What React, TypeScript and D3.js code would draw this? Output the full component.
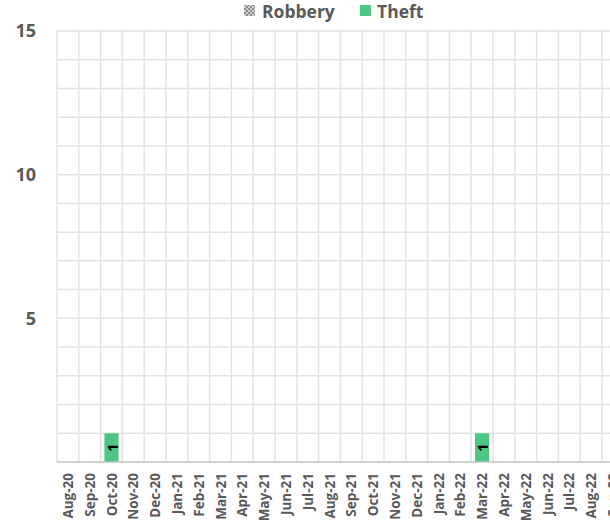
import React from "react";
import * as d3 from "d3";

const months = [
  "Aug-20","Sep-20","Oct-20","Nov-20","Dec-20","Jan-21","Feb-21","Mar-21","Apr-21","May-21",
  "Jun-21","Jul-21","Aug-21","Sep-21","Oct-21","Nov-21","Dec-21","Jan-22","Feb-22","Mar-22",
  "Apr-22","May-22","Jun-22","Jul-22","Aug-22","Sep-22",
];
const robbery = [0,0,0,0,0,0,0,0,0,0,0,0,0,0,0,0,0,0,0,0,0,0,0,0,0,0];
const theft =   [0,0,1,0,0,0,0,0,0,0,0,0,0,0,0,0,0,0,0,1,0,0,0,0,0,0];
const yTicks = [5, 10, 15];

const W = 610, H = 524;
const left = 57, top = 31, bottom = 462;
const step = 21.8;
const font = "'Open Sans', 'Noto Sans', sans-serif";
const textGray = "#595959";
const green = "#4bc683";

export default function App() {
  const x = d3.scaleBand<string>().domain(months).range([left, left + step * months.length]).paddingInner(0.35).paddingOuter(0.175);
  const xb = d3.scaleBand<string>().domain(months).range([left, left + step * months.length]);
  const y = d3.scaleLinear().domain([0, 15]).range([bottom, top]);
  const right = left + step * months.length;
  const stack = d3.stack<number>().keys(["robbery", "theft"]).value((i, k) => (k === "robbery" ? robbery[i] : theft[i]));
  const series = stack(months.map((_, i) => i));

  return (
    <svg width={W} height={H} style={{ position: "absolute", left: 0, top: 0, display: "block" }}>
      <defs>
        <pattern id="rob" width="4" height="4" patternUnits="userSpaceOnUse">
          <rect width="4" height="4" fill="#d0d0d0" />
          <rect width="2" height="2" fill="#8c8c8c" />
          <rect x="2" y="2" width="2" height="2" fill="#8c8c8c" />
        </pattern>
      </defs>
      <rect width={W} height={H} fill="#fff" />
      {d3.range(1, 16).map((v) => (
        <line key={"h" + v} x1={left} x2={right} y1={y(v)} y2={y(v)} stroke="#e3e3e3" strokeWidth={1.5} />
      ))}
      {months.map((m) => (
        <line key={"v" + m} x1={(xb(m) as number) + step} x2={(xb(m) as number) + step} y1={top} y2={bottom} stroke="#e3e3e3" strokeWidth={1.5} />
      ))}
      <line x1={left} x2={left} y1={top} y2={bottom} stroke="#e3e3e3" strokeWidth={1.5} />
      {series.map((s) =>
        s.map((d, i) =>
          d[1] - d[0] > 0 ? (
            <g key={s.key + i}>
              <rect x={x(months[i])} width={x.bandwidth()} y={y(d[1])} height={y(d[0]) - y(d[1])} fill={s.key === "theft" ? green : "url(#rob)"} />
              <text
                transform={`translate(${(x(months[i]) as number) + x.bandwidth() / 2},${(y(d[0]) + y(d[1])) / 2}) rotate(-90)`}
                textAnchor="middle" dominantBaseline="central" fontFamily={font} fontWeight={700} fontSize={15} fill="#000"
              >
                {d[1] - d[0]}
              </text>
            </g>
          ) : null
        )
      )}
      <line x1={left} x2={right} y1={bottom} y2={bottom} stroke="#c4c4c4" strokeWidth={1.5} />
      {yTicks.map((v) => (
        <text key={"y" + v} x={36} y={y(v)} dy="0.35em" textAnchor="end" fontFamily={font} fontWeight={700} fontSize={18} fill={textGray}>
          {v}
        </text>
      ))}
      {months.map((m) => (
        <text key={"l" + m}
          transform={`translate(${(xb(m) as number) + step / 2},${473}) rotate(-90)`}
          textAnchor="end" dominantBaseline="central" fontFamily={font} fontWeight={700} fontSize={13.5} fill={textGray}
        >
          {m}
        </text>
      ))}
      <g>
        <rect x={244} y={5} width={11} height={11} fill="url(#rob)" />
        <text x={262} y={17.5} fontFamily={font} fontWeight={700} fontSize={17.5} fill={textGray}>Robbery</text>
        <rect x={360} y={5} width={11} height={11} fill={green} />
        <text x={377} y={17.5} fontFamily={font} fontWeight={700} fontSize={17.5} fill={textGray}>Theft</text>
      </g>
    </svg>
  );
}
